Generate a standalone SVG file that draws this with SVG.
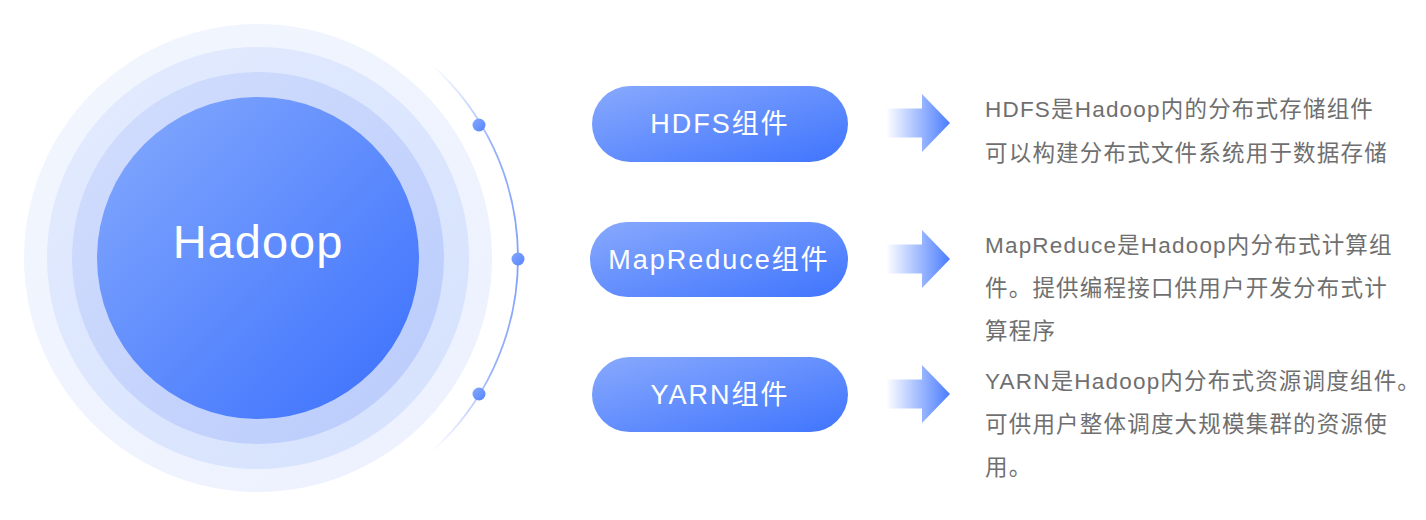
<svg xmlns="http://www.w3.org/2000/svg" width="1426" height="520" viewBox="0 0 1426 520">
  <defs>
    <linearGradient id="gInner" x1="0" y1="0" x2="1" y2="1">
      <stop offset="0" stop-color="#85aafd"/>
      <stop offset="1" stop-color="#3a6ffd"/>
    </linearGradient>
    <linearGradient id="gRing3" x1="0" y1="0" x2="1" y2="1">
      <stop offset="0" stop-color="#d3defd"/>
      <stop offset="1" stop-color="#b9cbfc"/>
    </linearGradient>
    <linearGradient id="gRing2" x1="0" y1="0" x2="1" y2="1">
      <stop offset="0" stop-color="#e3ebfe"/>
      <stop offset="1" stop-color="#d5e1fd"/>
    </linearGradient>
    <linearGradient id="gRing1" x1="0" y1="0" x2="1" y2="1">
      <stop offset="0" stop-color="#f2f6fe"/>
      <stop offset="1" stop-color="#ecf1fe"/>
    </linearGradient>
    <linearGradient id="gPill" x1="0" y1="0" x2="1" y2="1">
      <stop offset="0" stop-color="#88a9fd"/>
      <stop offset="1" stop-color="#3f74fd"/>
    </linearGradient>
    <linearGradient id="gArrow" x1="0" y1="0" x2="1" y2="0">
      <stop offset="0" stop-color="#4a7cfd" stop-opacity="0"/>
      <stop offset="1" stop-color="#4a7cfd" stop-opacity="1"/>
    </linearGradient>
    <linearGradient id="gArc" gradientUnits="userSpaceOnUse" x1="0" y1="64" x2="0" y2="452">
      <stop offset="0" stop-color="#7fa0fb" stop-opacity="0"/>
      <stop offset="0.2" stop-color="#7fa0fb" stop-opacity="0.8"/>
      <stop offset="0.5" stop-color="#7fa0fb" stop-opacity="1"/>
      <stop offset="0.8" stop-color="#7fa0fb" stop-opacity="0.8"/>
      <stop offset="1" stop-color="#7fa0fb" stop-opacity="0"/>
    </linearGradient>
    <linearGradient id="gDot" x1="0" y1="0" x2="1" y2="1">
      <stop offset="0" stop-color="#86a8fd"/>
      <stop offset="1" stop-color="#5584fc"/>
    </linearGradient>
    <path id="arrowShape" d="M886 -14.5 H922 V-29 L950 0 L922 29 V14.5 H886 Z"/>
    <style>
      .pill { fill: url(#gPill); }
      .pillText { font-family: "Liberation Sans", "Noto Sans CJK SC", sans-serif; font-size: 27px; fill: #ffffff; text-anchor: middle; letter-spacing: 2px; }
      .desc { font-family: "Liberation Sans", "Noto Sans CJK SC", sans-serif; font-size: 22.5px; fill: #6f6f6f; letter-spacing: 1.2px; }
      .dot { fill: url(#gDot); }
      .arrow { fill: url(#gArrow); }
    </style>
  </defs>

  <rect x="0" y="0" width="1426" height="520" fill="#ffffff"/>

  <g id="hadoop">
    <circle cx="258" cy="258" r="234" fill="url(#gRing1)"/>
    <circle cx="258" cy="258" r="211" fill="url(#gRing2)"/>
    <circle cx="258" cy="258" r="186" fill="url(#gRing3)"/>
    <circle cx="258" cy="258" r="161" fill="url(#gInner)"/>
    <text x="258" y="258" font-family="Liberation Sans, Noto Sans CJK SC, sans-serif" font-size="47" fill="#ffffff" text-anchor="middle" letter-spacing="1">Hadoop</text>
  </g>

  <g id="orbit">
    <path d="M432 64.8 A260 260 0 0 1 432 451.2" fill="none" stroke="url(#gArc)" stroke-width="1.8"/>
    <circle class="dot" cx="479" cy="125" r="6.5"/>
    <circle class="dot" cx="518" cy="259" r="6.5"/>
    <circle class="dot" cx="479" cy="394" r="6.5"/>
  </g>

  <g id="hdfs">
    <rect class="pill" x="592" y="86" width="256" height="76" rx="38"/>
    <text class="pillText" x="720" y="133">HDFS组件</text>
  </g>
  <g id="mapreduce">
    <rect class="pill" x="590" y="222" width="258" height="75" rx="37.5"/>
    <text class="pillText" x="719" y="269">MapReduce组件</text>
  </g>
  <g id="yarn">
    <rect class="pill" x="592" y="357" width="256" height="75" rx="37.5"/>
    <text class="pillText" x="720" y="404">YARN组件</text>
  </g>

  <g id="connectors">
    <use href="#arrowShape" class="arrow" transform="translate(0 123)"/>
    <use href="#arrowShape" class="arrow" transform="translate(0 259)"/>
    <use href="#arrowShape" class="arrow" transform="translate(0 394)"/>
  </g>

  <g id="hdfs-desc">
    <text class="desc" x="985" y="117">HDFS是Hadoop内的分布式存储组件</text>
    <text class="desc" x="985" y="161">可以构建分布式文件系统用于数据存储</text>
  </g>
  <g id="mapreduce-desc">
    <text class="desc" x="985" y="253">MapReduce是Hadoop内分布式计算组</text>
    <text class="desc" x="985" y="296">件。提供编程接口供用户开发分布式计</text>
    <text class="desc" x="985" y="339">算程序</text>
  </g>
  <g id="yarn-desc">
    <text class="desc" x="985" y="389">YARN是Hadoop内分布式资源调度组件。</text>
    <text class="desc" x="985" y="432">可供用户整体调度大规模集群的资源使</text>
    <text class="desc" x="985" y="475">用。</text>
  </g>
</svg>
